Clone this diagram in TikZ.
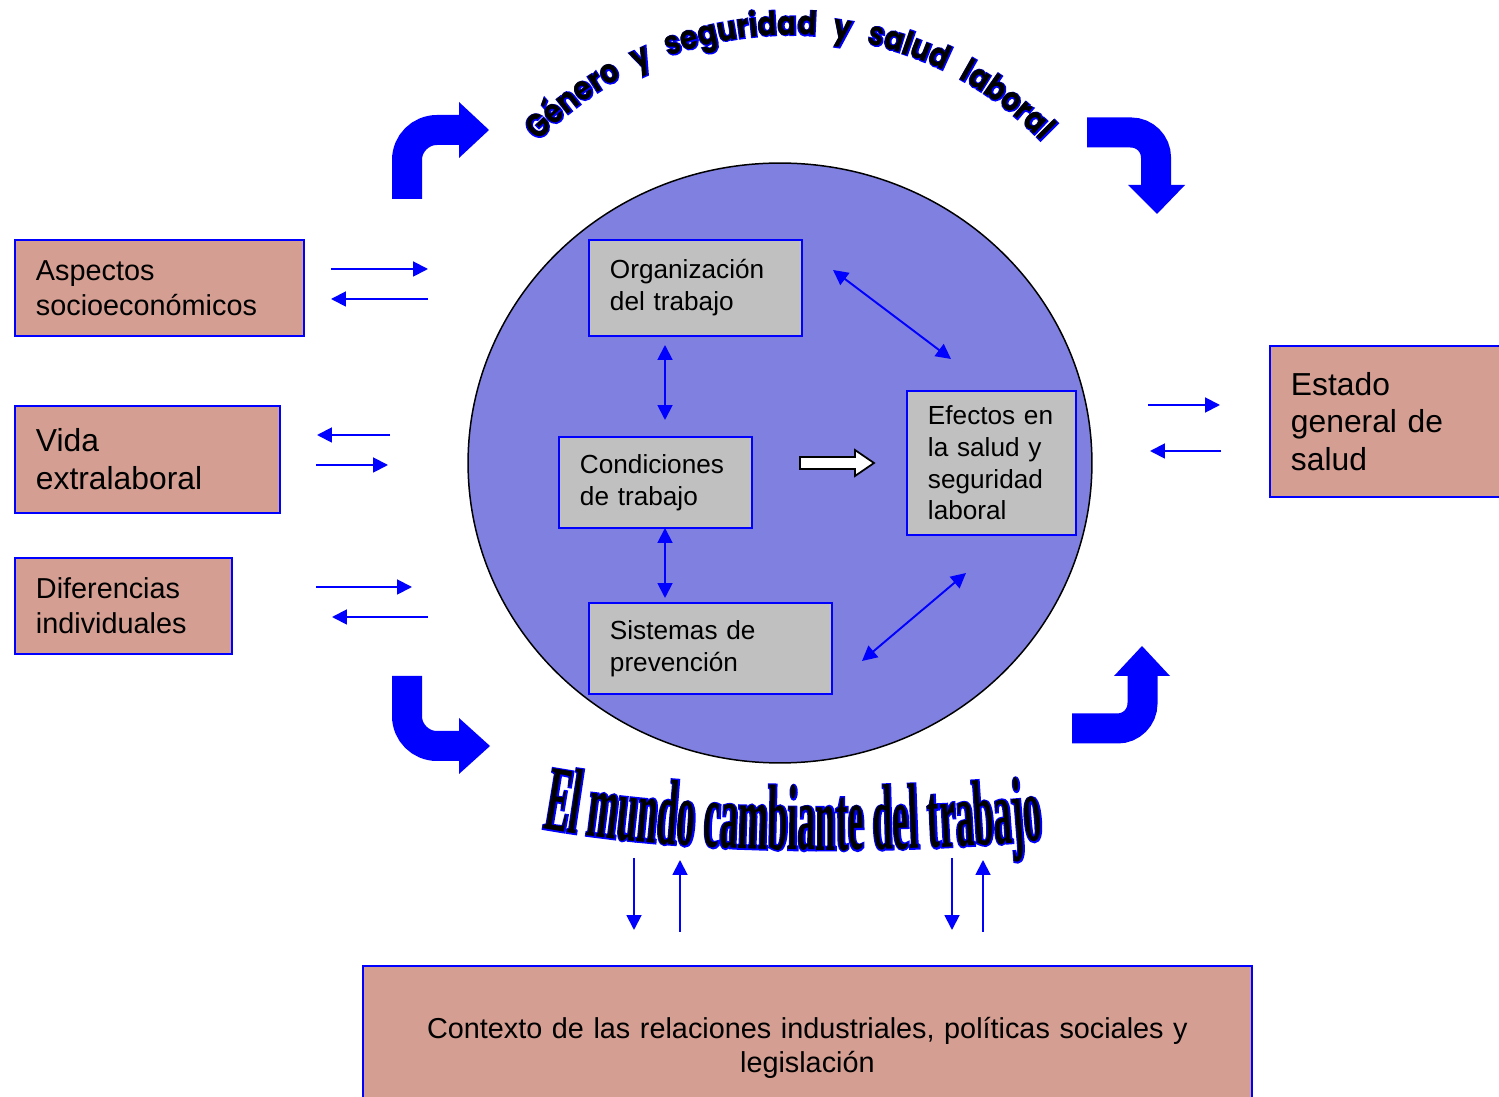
\documentclass[tikz,border=0pt]{standalone}
\usepackage{fontspec}
\setmainfont{Liberation Sans}
\newfontfamily\arcfont[FakeStretch=0.85]{Poppins}
\newfontfamily\arcrim[FakeStretch=0.85, FakeBold=6]{Poppins}
\newfontfamily\wavefont[FakeStretch=0.39]{Liberation Serif}
\newfontfamily\waverim[FakeStretch=0.39, FakeBold=3]{Liberation Serif}
\usetikzlibrary{arrows.meta,decorations.text}

\definecolor{rosebox}{RGB}{212,158,146}
\definecolor{graybox}{RGB}{192,192,192}
\definecolor{circlefill}{RGB}{128,128,224}

\begin{document}
\begin{tikzpicture}[x=0.02cm, y=-0.02cm,
  outerbox/.style={draw=blue, line width=1.1pt, fill=rosebox, anchor=north west, align=left,
    inner xsep=0.42cm, inner ysep=2pt, font=\fontsize{16.4}{19.8}\selectfont},
  innerbox/.style={draw=blue, line width=1.1pt, fill=graybox, anchor=north west, align=left,
    inner xsep=0.42cm, inner ysep=2pt, font=\fontsize{14.9}{18.1}\selectfont},
  bigfont/.style={font=\fontsize{18.1}{21.5}\selectfont},
  onearrow/.style={blue, line width=1.1pt, -{Triangle[length=8.5pt,width=8.5pt]}},
  twoarrow/.style={blue, line width=1.1pt, {Triangle[length=8.5pt,width=8.5pt]}-{Triangle[length=8.5pt,width=8.5pt]}},
  bendarrow/.style={blue, line width=0.6cm}]
  \useasboundingbox (0,0) rectangle (1499,1097);

  % Central circle
  \draw[fill=circlefill, line width=0.85pt] (780,463) ellipse [x radius=6.24cm, y radius=6.0cm];

  % Outer boxes
  \node[outerbox, text width=4.94cm, minimum height=1.92cm] (asp) at (14,239) {Aspectos\\socioeconómicos};
  \node[outerbox, bigfont, text width=4.46cm, minimum height=2.14cm] (vida) at (14,405) {Vida\\extralaboral};
  \node[outerbox, text width=3.50cm, minimum height=1.92cm] (dif) at (14,557) {Diferencias\\individuales};
  \node[outerbox, bigfont, text width=4.16cm, minimum height=3.02cm] (est) at (1269,345) {Estado\\general de\\salud};
  \node[outerbox, align=center, text width=16.94cm, minimum height=3.28cm] (ctx) at (362,965)
    {Contexto de las relaciones industriales, políticas sociales y\\legislación};

  % Inner boxes
  \node[innerbox, text width=3.42cm, minimum height=1.92cm] (org) at (588,239) {Organización\\del trabajo};
  \node[innerbox, text width=3.02cm, minimum height=1.82cm] (cond) at (558,436) {Condiciones\\de trabajo};
  \node[innerbox, text width=2.54cm, minimum height=2.88cm] (efe) at (906,390) {Efectos en\\la salud y\\seguridad\\laboral};
  \node[innerbox, text width=4.02cm, minimum height=1.82cm] (sis) at (588,602) {Sistemas de\\prevención};

  % Arrow ends
  \coordinate (a1) at (331,269); \coordinate (a2) at (428,269);
  \coordinate (a3) at (428,299); \coordinate (a4) at (331,299);
  \coordinate (v1) at (390,435); \coordinate (v2) at (317,435);
  \coordinate (v3) at (316,465); \coordinate (v4) at (388,465);
  \coordinate (d1) at (316,587); \coordinate (d2) at (412,587);
  \coordinate (d3) at (428,617); \coordinate (d4) at (332,617);
  \coordinate (e1) at (1148,405); \coordinate (e2) at (1220,405);
  \coordinate (e3) at (1221,451); \coordinate (e4) at (1150,451);
  \coordinate (b1) at (634,858); \coordinate (b2) at (634,930);
  \coordinate (b3) at (680,932); \coordinate (b4) at (680,860);
  \coordinate (b5) at (952,858); \coordinate (b6) at (952,930);
  \coordinate (b7) at (983,932); \coordinate (b8) at (983,860);
  \coordinate (i1) at (665,345); \coordinate (i2) at (665,420);
  \coordinate (i3) at (665,528); \coordinate (i4) at (665,598);
  \coordinate (i5) at (833,270); \coordinate (i6) at (951,359);
  \coordinate (i7) at (966,573); \coordinate (i8) at (862,661);

  % Thin arrows
  \foreach \s/\t in {a1/a2, a3/a4, v1/v2, v3/v4, d1/d2, d3/d4, e1/e2, e3/e4, b1/b2, b3/b4, b5/b6, b7/b8}
    \draw[onearrow] (\s) -- (\t);
  \foreach \s/\t in {i1/i2, i3/i4, i5/i6, i7/i8}
    \draw[twoarrow] (\s) -- (\t);

  % Hollow arrow between condiciones and efectos
  \draw[fill=white, line width=1pt] (800,457) -- (855,457) -- (855,450) -- (874,463)
    -- (855,476) -- (855,469) -- (800,469) -- cycle;

  % Bent arrows
  \draw[bendarrow, rounded corners=0.6cm] (407,199) -- (407,130) -- (460,130);
  \fill[blue] (459,102) -- (489,130) -- (459,158) -- cycle;
  \draw[bendarrow, rounded corners=0.5cm] (1087,132.5) -- (1156,132.5) -- (1156,186);
  \fill[blue] (1128,185) -- (1185,185) -- (1157,214) -- cycle;
  \draw[bendarrow, rounded corners=0.6cm] (407,676) -- (407,746) -- (460,746);
  \fill[blue] (459,718) -- (490,746) -- (459,774) -- cycle;
  \draw[bendarrow, rounded corners=0.5cm] (1072,728.5) -- (1142.5,728.5) -- (1142.5,675);
  \fill[blue] (1114,676) -- (1170,676) -- (1142,646) -- cycle;

  % Arc title, blue rim then black letters
  \path[decorate, decoration={text along path, text align=fit to path stretching spaces,
      text={|\arcrim\bfseries\fontsize{19}{22}\selectfont\color{blue}|Género y seguridad y salud laboral}}]
    (538.2,141.9) arc[start angle=136, end angle=44, radius=7cm];
  \path[decorate, decoration={text along path, text align=fit to path stretching spaces,
      text={|\arcfont\bfseries\fontsize{19}{22}\selectfont|Género y seguridad y salud laboral}}]
    (538.2,141.9) arc[start angle=136, end angle=44, radius=7cm];

  % Wave title, blue rim then black letters
  \path[decorate, decoration={text along path, text align=center,
      text={|\waverim\bfseries\fontsize{53}{60}\selectfont\color{blue}|El mundo cambiante del trabajo}}]
    (540,828) .. controls (690,855) and (880,855) .. (1046,840);
  \path[decorate, decoration={text along path, text align=center,
      text={|\wavefont\bfseries\fontsize{53}{60}\selectfont|El mundo cambiante del trabajo}}]
    (540,828) .. controls (690,855) and (880,855) .. (1046,840);
\end{tikzpicture}
\end{document}
